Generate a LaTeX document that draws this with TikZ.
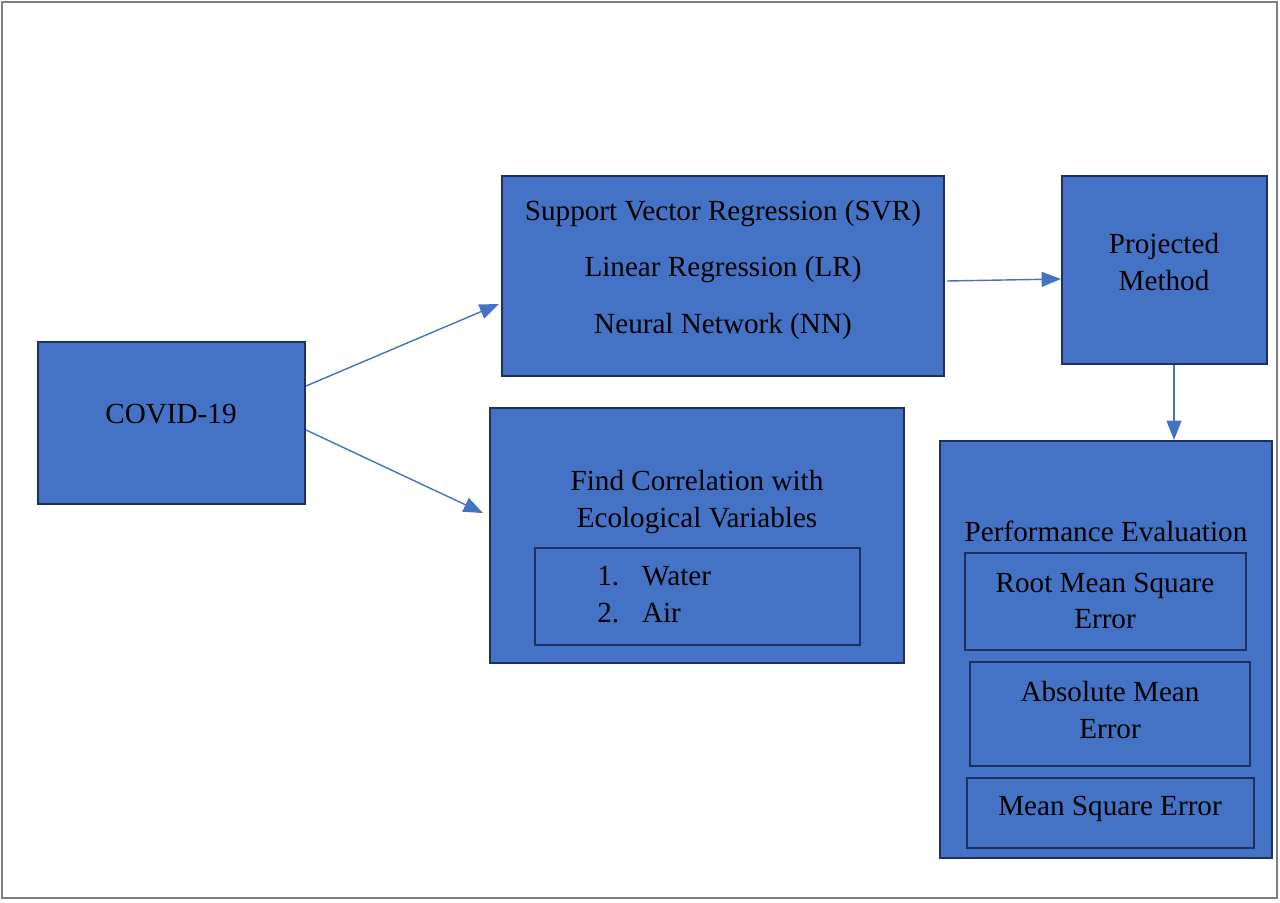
\documentclass[tikz,border=0pt]{standalone}
\usepackage{fontspec}
\setmainfont{Liberation Serif}
\usetikzlibrary{arrows.meta}

\definecolor{boxblue}{HTML}{4472C4}
\definecolor{boxline}{HTML}{1F3060}
\definecolor{framegray}{HTML}{7F7F7F}

\tikzset{
    block/.style={draw=boxline, fill=boxblue, line width=1.2pt, inner sep=0pt},
    subblock/.style={draw=boxline, line width=1.1pt, inner sep=0pt},
    txt/.style={font=\fontsize{16.6}{21}\selectfont, align=center, inner sep=0pt, text=black},
    link/.style={draw=boxblue, line width=0.8pt, -{Triangle[length=11pt,width=8.5pt]}}
}

\begin{document}
\begin{tikzpicture}[x=0.02cm, y=-0.02cm]
                % Page and outer frame
                \useasboundingbox (0,0) rectangle (1280,902);
                \draw[framegray, line width=1.1pt] (2,2) rectangle (1277,898);

                % Main blocks
                \node[block, minimum width=5.34cm, minimum height=3.24cm] (covid) at (171.5,423) {};
                \node[block, minimum width=8.84cm, minimum height=4.0cm] (models) at (723,276) {};
                \node[block, minimum width=4.1cm, minimum height=3.76cm] (proj) at (1164.5,270) {};
                \node[block, minimum width=8.28cm, minimum height=5.1cm] (corr) at (697,535.5) {};
                \node[block, minimum width=6.64cm, minimum height=8.34cm] (perf) at (1106,649.5) {};

                % Inner boxes
                \node[subblock, minimum width=6.5cm, minimum height=1.94cm] (vars) at (697.5,596.5) {};
                \node[subblock, minimum width=5.62cm, minimum height=1.94cm] (rmse) at (1105.5,601.5) {};
                \node[subblock, minimum width=5.6cm, minimum height=2.08cm] (ame) at (1110,714) {};
                \node[subblock, minimum width=5.74cm, minimum height=1.4cm] (mse) at (1110.5,813) {};

                % Texts
                \node[txt] (covidtxt) at (171,414) {COVID-19};
                \foreach \t [count=\i] in {Support Vector Regression (SVR), Linear Regression (LR), Neural Network (NN)}
                    \node[txt] (model\i) at (723,158+56*\i) {\t};
                \node[txt] (projtxt) at (1164,262) {Projected\\Method};
                \node[txt] (corrtxt) at (697,502) {Find Correlation with\\Ecological Variables};
                \node[txt, anchor=west] (varstxt) at (597,597)
                    {\begin{tabular}{@{}l@{\hspace{13pt}}l@{}}1. & Water\\ 2. & Air\end{tabular}};
                \node[txt] (perftxt) at (1106,531) {Performance Evaluation};
                \node[txt] (rmsetxt) at (1105,601) {Root Mean Square\\Error};
                \node[txt] (ametxt) at (1110,710) {Absolute Mean\\Error};
                \node[txt] (msetxt) at (1110,809) {Mean Square Error};

                % Connectors
                \draw[link] ([yshift=0.74cm]covid.east) -- ([xshift=-0.04cm, yshift=-0.56cm]models.west);
                \draw[link] ([yshift=-0.14cm]covid.east) -- ([xshift=-0.12cm, yshift=0.45cm]corr.west);
                \draw[link] ([xshift=0.04cm, yshift=-0.1cm]models.east) -- ([yshift=-0.18cm]proj.west);
                \draw[link] ([xshift=0.19cm]proj.south) -- ([xshift=0.19cm]proj.south |- perf.north);
\end{tikzpicture}
\end{document}
